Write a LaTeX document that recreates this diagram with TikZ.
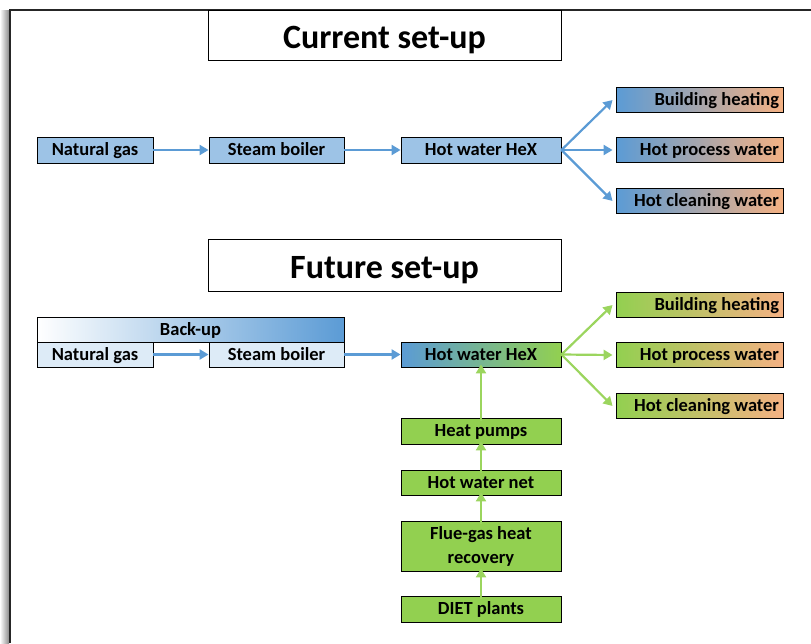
\documentclass[tikz,border=0pt]{standalone}
\usepackage{fontspec}
\setmainfont{Carlito}
\usetikzlibrary{arrows.meta}
\definecolor{bluefill}{HTML}{9DC3E6}
\definecolor{bluedark}{HTML}{5B9BD5}
\definecolor{lightblue}{HTML}{DDEBF7}
\definecolor{greenfill}{HTML}{92D050}
\definecolor{greenarrow}{HTML}{9BD55E}
\definecolor{orangefill}{HTML}{F4B183}
\tikzset{
  box/.style={draw=black, line width=0.9pt, inner sep=0pt, font=\bfseries\fontsize{18.5}{22}\selectfont, minimum height=25pt, text height=14pt, text depth=3pt},
  outbox/.style={box, text width=159pt, align=flush right, inner xsep=4pt, minimum width=167pt},
  titlebox/.style={draw=black, line width=0.9pt, fill=white, minimum width=353pt, text height=32pt, text depth=6pt, font=\bfseries\fontsize{34}{38}\selectfont},
  barrow/.style={draw=bluedark, line width=2.2pt, -{Triangle[length=9pt,width=10pt]}},
  garrow/.style={draw=greenarrow, line width=2.2pt, -{Triangle[length=9pt,width=10pt]}},
}
\begin{document}
\begin{tikzpicture}[x=1pt,y=-1pt]
\useasboundingbox (0,0) rectangle (811,643);
% page frame
\shade[left color=white, right color=black!45] (0,10) rectangle (9,643);
\draw[line width=1.4pt, black!85] (10,643) -- (10,10) -- (811,10);

% Current set-up
\node[titlebox, minimum height=50pt] (t1) at (384.5,35) {Current set-up};
\node[box, fill=bluefill, minimum width=116pt, minimum height=26pt] (ng1) at (95,150) {Natural gas};
\node[box, fill=bluefill, minimum width=135pt, minimum height=26pt] (sb1) at (276.5,150) {Steam boiler};
\node[box, fill=bluefill, minimum width=160pt, minimum height=26pt] (hx1) at (481,150) {Hot water HeX};
\node[outbox, left color=bluedark, right color=orangefill] (bh1) at (699.5,100) {Building heating};
\node[outbox, left color=bluedark, right color=orangefill] (pw1) at (699.5,150) {Hot process water};
\node[outbox, left color=bluedark, right color=orangefill] (cw1) at (699.5,201) {Hot cleaning water};
\draw[barrow] (ng1) -- (sb1);
\draw[barrow] (sb1) -- (hx1);
\draw[barrow] (hx1.east) -- ([xshift=-3pt]bh1.west);
\draw[barrow] (hx1.east) -- ([xshift=-3pt]pw1.west);
\draw[barrow] (hx1.east) -- ([xshift=-3pt]cw1.west);

% Future set-up
\node[titlebox, minimum height=52pt] (t2) at (384.5,265) {Future set-up};
\node[box, left color=white, right color=bluedark, minimum width=307pt] (bu) at (190.5,329.5) {Back-up};
\node[box, fill=lightblue, minimum width=116pt] (ng2) at (95,354.5) {Natural gas};
\node[box, fill=lightblue, minimum width=135pt] (sb2) at (276.5,354.5) {Steam boiler};
\node[box, left color=bluedark, right color=greenfill, minimum width=160pt] (hx2) at (481,354.5) {Hot water HeX};
\node[outbox, left color=greenfill, right color=orangefill] (bh2) at (699.5,305) {Building heating};
\node[outbox, left color=greenfill, right color=orangefill] (pw2) at (699.5,355) {Hot process water};
\node[outbox, left color=greenfill, right color=orangefill] (cw2) at (699.5,406) {Hot cleaning water};
\node[box, fill=greenfill, minimum width=160pt, minimum height=26pt] (hp) at (481,431) {Heat pumps};
\node[box, fill=greenfill, minimum width=160pt] (hn) at (481,482.5) {Hot water net};
\node[box, fill=greenfill, minimum width=160pt, minimum height=50pt, align=center, text height=, text depth=, font=\bfseries\fontsize{18.5}{24}\selectfont] (fg) at (481,546) {Flue-gas heat\\recovery};
\node[box, fill=greenfill, minimum width=160pt, minimum height=26pt] (dp) at (481,609) {DIET plants};
\draw[barrow] (ng2) -- (sb2);
\draw[barrow] (sb2) -- (hx2);
\draw[garrow] (hx2.east) -- ([xshift=-3pt]bh2.west);
\draw[garrow] (hx2.east) -- ([xshift=-3pt]pw2.west);
\draw[garrow] (hx2.east) -- ([xshift=-3pt]cw2.west);
\draw[garrow] ([yshift=-3pt]hp.north) -- ([yshift=3pt]hx2.south);
\draw[garrow] ([yshift=-3pt]hn.north) -- ([yshift=3pt]hp.south);
\draw[garrow] ([yshift=-3pt]fg.north) -- ([yshift=3pt]hn.south);
\draw[garrow] ([yshift=-3pt]dp.north) -- ([yshift=3pt]fg.south);
\end{tikzpicture}
\end{document}
